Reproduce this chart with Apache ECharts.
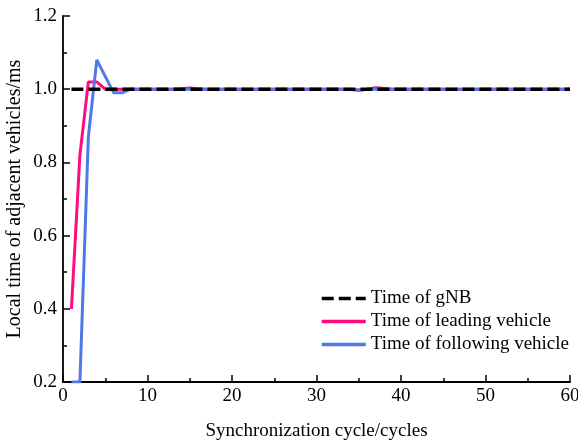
<!DOCTYPE html>
<html lang="en">

<head>
    <meta charset="UTF-8">
    <title>Synchronization</title>
    <script src="https://cdn.jsdelivr.net/npm/echarts@6/dist/echarts.min.js"></script>
    <style>
        * {
            margin: 0;
            padding: 0;
        }

        #chart {
            width: 578px;
            height: 442px;
        }
    </style>
</head>

<body>
    <div id="chart"></div>
    <script>
        // cycles 1..60
        const cycles = []
        for (let i = 1; i <= 60; i++) cycles.push(i)

        const gnbTime = [
            1.00, 1.00, 1.00, 1.00, 1.00, 1.00, 1.00, 1.00, 1.00, 1.00,
            1.00, 1.00, 1.00, 1.00, 1.00, 1.00, 1.00, 1.00, 1.00, 1.00,
            1.00, 1.00, 1.00, 1.00, 1.00, 1.00, 1.00, 1.00, 1.00, 1.00,
            1.00, 1.00, 1.00, 1.00, 1.00, 1.00, 1.00, 1.00, 1.00, 1.00,
            1.00, 1.00, 1.00, 1.00, 1.00, 1.00, 1.00, 1.00, 1.00, 1.00,
            1.00, 1.00, 1.00, 1.00, 1.00, 1.00, 1.00, 1.00, 1.00, 1.00
        ]

        const leadingTime = [
            0.40, 0.82, 1.02, 1.02, 1.00, 1.00, 1.00, 1.00, 1.00, 1.00,
            1.00, 1.00, 1.00, 1.001, 1.003, 1.001, 1.00, 1.00, 1.00, 1.00,
            1.00, 0.999, 1.00, 1.00, 1.00, 1.00, 1.00, 1.00, 1.00, 1.00,
            1.00, 1.00, 1.00, 0.999, 0.997, 1.00, 1.004, 1.002, 1.00, 1.00,
            1.00, 1.00, 1.00, 1.00, 1.00, 0.999, 1.00, 1.00, 1.00, 1.00,
            1.00, 1.00, 1.00, 1.00, 1.00, 1.00, 1.00, 1.00, 1.00, 1.00
        ]

        const followingTime = [
            0.20, 0.20, 0.87, 1.08, 1.035, 0.99, 0.99, 1.00, 1.00, 1.00,
            1.00, 1.00, 1.00, 1.00, 1.00, 1.00, 1.00, 0.999, 1.00, 1.00,
            1.00, 1.00, 1.00, 1.00, 1.00, 1.00, 1.00, 1.00, 1.00, 1.00,
            1.00, 1.00, 1.00, 1.00, 0.998, 1.00, 1.00, 1.00, 1.00, 1.00,
            1.00, 1.00, 1.00, 1.00, 1.00, 1.00, 1.00, 0.999, 1.00, 1.00,
            1.00, 1.00, 1.00, 1.00, 1.00, 1.00, 1.00, 1.00, 1.00, 1.00
        ]

        const seriesNames = ['Time of gNB', 'Time of leading vehicle', 'Time of following vehicle']

        const pairs = arr => arr.map((v, i) => [cycles[i], v])

        const font = 'Liberation Serif'
        const fs = 19
        const axisLine = { show: true, lineStyle: { color: '#000', width: 1.8 } }

        const myChart = echarts.init(document.querySelector('#chart'))

        const option = {
            animation: false,
            textStyle: { fontFamily: font, color: '#000' },
            grid: {
                left: 63,
                right: 8,
                top: 16,
                bottom: 60,
                outerBoundsMode: 'none'
            },
            legend: {
                orient: 'vertical',
                left: 320,
                top: 289,
                padding: 0,
                itemWidth: 44,
                itemHeight: 14,
                itemGap: 4,
                textStyle: { fontFamily: font, fontSize: fs, color: '#000' },
                itemStyle: { opacity: 0 },
                lineStyle: { width: 3.5 },
                data: seriesNames
            },
            xAxis: {
                type: 'value',
                min: 0,
                max: 60,
                interval: 10,
                name: 'Synchronization cycle/cycles',
                nameLocation: 'middle',
                nameGap: 40,
                nameMoveOverlap: false,
                nameTextStyle: { fontFamily: font, fontSize: fs, color: '#000' },
                axisLine: axisLine,
                axisTick: { inside: true, length: 7, lineStyle: { color: '#000', width: 1.5 } },
                minorTick: { show: true, splitNumber: 2, length: 4, lineStyle: { color: '#000', width: 1.5 } },
                axisLabel: { fontFamily: font, fontSize: fs, color: '#000', margin: 5 },
                splitLine: { show: false }
            },
            yAxis: {
                type: 'value',
                min: 0.2,
                max: 1.2,
                interval: 0.2,
                name: 'Local time of adjacent vehicles/ms',
                nameLocation: 'middle',
                nameGap: 38,
                nameMoveOverlap: false,
                nameTextStyle: { fontFamily: font, fontSize: 20, color: '#000' },
                axisLine: axisLine,
                axisTick: { inside: true, length: 7, lineStyle: { color: '#000', width: 1.5 } },
                minorTick: { show: true, splitNumber: 2, length: 4, lineStyle: { color: '#000', width: 1.5 } },
                axisLabel: {
                    fontFamily: font, fontSize: fs, color: '#000', margin: 6,
                    formatter: v => v.toFixed(1)
                },
                splitLine: { show: false }
            },
            series: [
                {
                    name: seriesNames[1],
                    type: 'line',
                    symbol: 'none',
                    data: pairs(leadingTime),
                    lineStyle: { color: '#ff0a7f', width: 3 },
                    itemStyle: { color: '#ff0a7f' },
                    z: 2
                },
                {
                    name: seriesNames[2],
                    type: 'line',
                    symbol: 'none',
                    data: pairs(followingTime),
                    lineStyle: { color: '#4f79e8', width: 3 },
                    itemStyle: { color: '#4f79e8' },
                    z: 3
                },
                {
                    name: seriesNames[0],
                    type: 'line',
                    symbol: 'none',
                    data: pairs(gnbTime),
                    lineStyle: { color: '#000', width: 3.5, type: [12, 5] },
                    itemStyle: { color: '#000' },
                    z: 4
                }
            ]
        }

        myChart.setOption(option)
    </script>
</body>

</html>
